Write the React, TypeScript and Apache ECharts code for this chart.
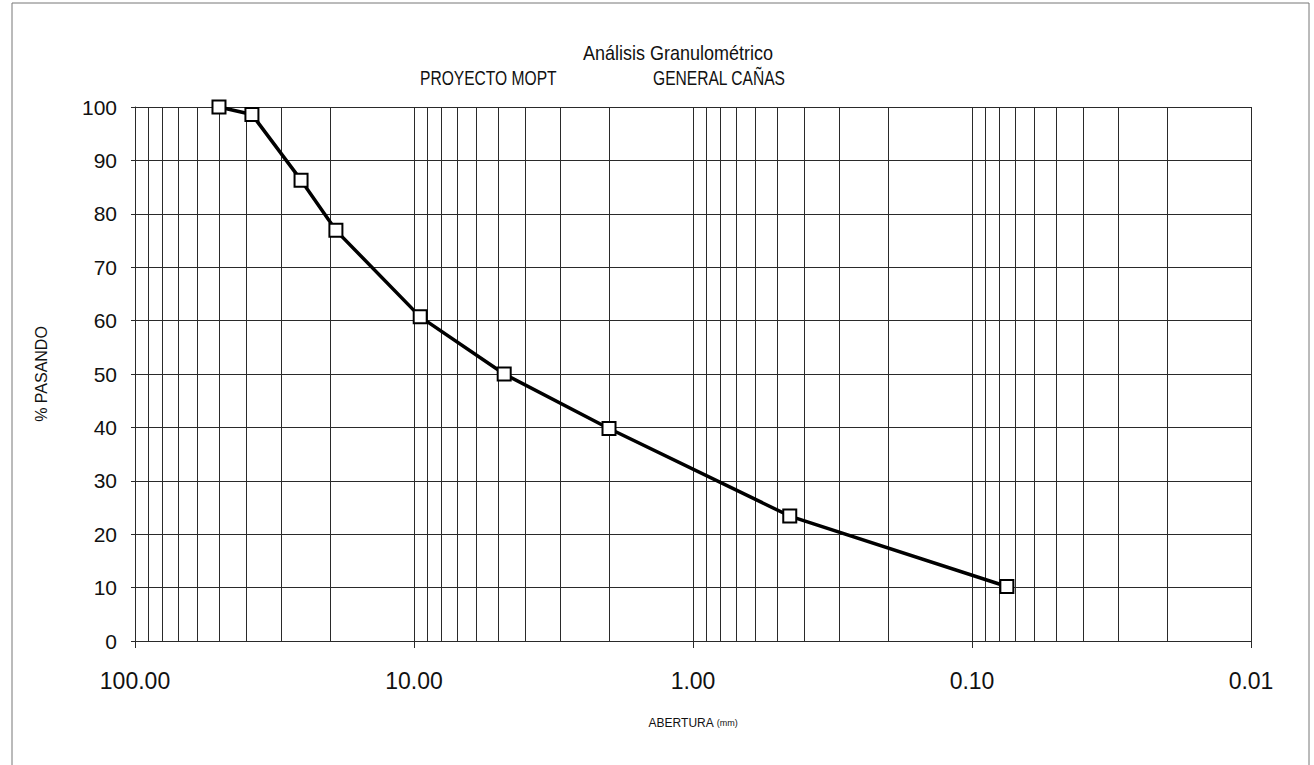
import React, { useEffect, useRef } from "react";
import * as echarts from "echarts";

// Sieve openings (mm) and % passing
const openings = [50.0, 38.1, 25.4, 19.05, 9.5, 4.75, 2.0, 0.45, 0.075];
const passing = [100, 98.6, 86.3, 76.9, 60.7, 50.0, 39.8, 23.4, 10.2];

// Minor log gridline positions (2..9 within each decade)
const decades = [0.01, 0.1, 1, 10];
const minorMultipliers = [2, 3, 4, 5, 6, 7, 8, 9];

const titleLine1 = "Análisis Granulométrico";
const titleLeft = "PROYECTO MOPT";
const titleRight = "GENERAL CAÑAS";
const xName = "ABERTURA";
const xUnit = "(mm)";
const yName = "% PASANDO";

const FONT = "'Liberation Sans', Arial, sans-serif";

export default function App() {
  const ref = useRef<HTMLDivElement>(null);

  useEffect(() => {
    if (!ref.current) return;
    const chart = echarts.init(ref.current, undefined, { renderer: "svg" });
    const minorValues: number[] = [];
    decades.forEach((d) => minorMultipliers.forEach((m) => minorValues.push(+(d * m).toPrecision(6))));
    const gridColor = "#2a2a2a";

    chart.setOption({
      animation: false,
      backgroundColor: "#ffffff",
      textStyle: { fontFamily: FONT },
      graphic: [
        {
          type: "rect",
          shape: { x: 12, y: 3, width: 1297, height: 820 },
          style: { fill: "none", stroke: "#777", lineWidth: 1 },
          silent: true,
        },
        {
          type: "text",
          x: 678,
          y: 63,
          scaleX: 0.9,
          style: {
            text: titleLine1,
            font: `20px ${FONT}`,
            fill: "#111",
            textAlign: "center",
            textVerticalAlign: "bottom",
          },
        },
        {
          type: "text",
          x: 420,
          y: 88,
          scaleX: 0.78,
          style: {
            text: titleLeft,
            font: `20px ${FONT}`,
            fill: "#111",
            textAlign: "left",
            textVerticalAlign: "bottom",
          },
        },
        {
          type: "text",
          x: 653,
          y: 88,
          scaleX: 0.78,
          style: {
            text: titleRight,
            font: `20px ${FONT}`,
            fill: "#111",
            textAlign: "left",
            textVerticalAlign: "bottom",
          },
        },
      ],
      grid: { left: 135, right: 63, top: 107, bottom: 124, containLabel: false },
      xAxis: {
        type: "log",
        logBase: 10,
        min: 0.01,
        max: 100,
        inverse: true,
        name: `${xName} {u|${xUnit}}`,
        nameLocation: "middle",
        nameGap: 76,
        nameTextStyle: {
          fontSize: 12,
          color: "#111",
          fontFamily: FONT,
          rich: { u: { fontSize: 9, color: "#111", fontFamily: FONT } },
        },
        axisLine: { show: true, lineStyle: { color: gridColor, width: 1 } },
        axisTick: { show: true, length: 7, lineStyle: { color: gridColor } },
        axisLabel: {
          fontSize: 23,
          color: "#111",
          margin: 28,
          fontFamily: FONT,
          formatter: (v: number) => v.toFixed(2),
        },
        splitLine: { show: true, lineStyle: { color: gridColor, width: 1 } },
        minorTick: { show: false },
        minorSplitLine: { show: false },
      },
      yAxis: {
        type: "value",
        min: 0,
        max: 100,
        interval: 10,
        name: yName,
        nameLocation: "middle",
        nameGap: 86,
        nameRotate: 90,
        nameTextStyle: { fontSize: 16, color: "#111", fontFamily: FONT },
        axisLine: { show: true, lineStyle: { color: gridColor, width: 1 } },
        axisTick: { show: true, length: 4, lineStyle: { color: gridColor } },
        axisLabel: { fontSize: 21, color: "#111", margin: 18, fontFamily: FONT },
        splitLine: { show: true, lineStyle: { color: gridColor, width: 1 } },
      },
      series: [
        {
          type: "line",
          data: [],
          z: 1,
          silent: true,
          markLine: {
            silent: true,
            symbol: ["none", "none"],
            label: { show: false },
            emphasis: { disabled: true },
            lineStyle: { color: gridColor, width: 1, type: "solid" },
            data: minorValues.map((v) => ({ xAxis: v })),
          },
        },
        {
          type: "line",
          z: 5,
          data: openings.map((o, i) => [o, passing[i]]),
          lineStyle: { color: "#000", width: 3.5 },
          symbol: "rect",
          symbolSize: 13,
          showAllSymbol: true,
          itemStyle: { color: "#ffffff", borderColor: "#000", borderWidth: 2 },
        },
      ],
    });
    return () => chart.dispose();
  }, []);

  return (
    <div
      ref={ref}
      style={{ position: "absolute", left: 0, top: 0, width: 1314, height: 765 }}
    />
  );
}
